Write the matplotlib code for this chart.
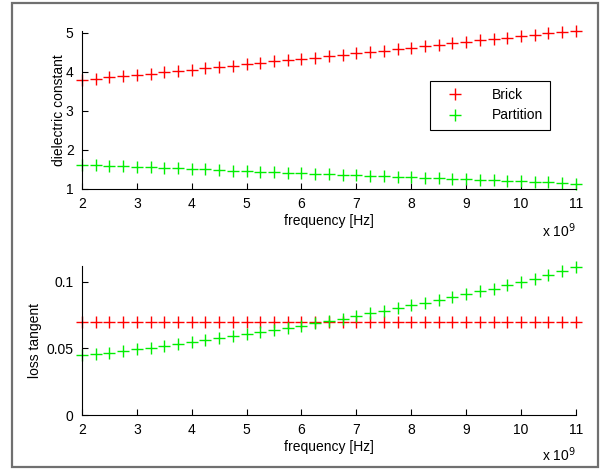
import matplotlib
matplotlib.use("Agg")
import matplotlib.pyplot as plt
from matplotlib.patches import Rectangle

plt.rcParams["font.family"] = ["Liberation Sans", "DejaVu Sans"]
plt.rcParams["font.size"] = 10

# frequency in units of 1e9 Hz
freq = [2.00, 2.25, 2.50, 2.75, 3.00, 3.25, 3.50, 3.75, 4.00, 4.25, 4.50, 4.75,
        5.00, 5.25, 5.50, 5.75, 6.00, 6.25, 6.50, 6.75, 7.00, 7.25, 7.50, 7.75,
        8.00, 8.25, 8.50, 8.75, 9.00, 9.25, 9.50, 9.75, 10.00, 10.25, 10.50,
        10.75, 11.00]

brick_eps = [3.80, 3.83, 3.86, 3.89, 3.92, 3.96, 3.99, 4.02, 4.06, 4.09, 4.13,
             4.16, 4.20, 4.23, 4.27, 4.30, 4.34, 4.37, 4.41, 4.44, 4.48, 4.52,
             4.55, 4.59, 4.62, 4.66, 4.70, 4.73, 4.77, 4.81, 4.84, 4.88, 4.92,
             4.95, 4.99, 5.02, 5.05]
partition_eps = [1.62, 1.61, 1.60, 1.58, 1.57, 1.56, 1.54, 1.53, 1.51, 1.50,
                 1.48, 1.47, 1.46, 1.44, 1.43, 1.42, 1.40, 1.39, 1.38, 1.36,
                 1.35, 1.34, 1.33, 1.31, 1.30, 1.29, 1.27, 1.26, 1.25, 1.24,
                 1.22, 1.21, 1.20, 1.18, 1.17, 1.15, 1.13]

brick_tan = [0.070] * 37
partition_tan = [0.0452, 0.0458, 0.0468, 0.0480, 0.0493, 0.0505, 0.0518,
                 0.0533, 0.0548, 0.0563, 0.0578, 0.0593, 0.0610, 0.0623,
                 0.0640, 0.0655, 0.0670, 0.0688, 0.0705, 0.0725, 0.0745,
                 0.0765, 0.0785, 0.0805, 0.0825, 0.0845, 0.0865, 0.0885,
                 0.0910, 0.0930, 0.0950, 0.0978, 0.1003, 0.1025, 0.1055,
                 0.1080, 0.1110]

xticks = [2, 3, 4, 5, 6, 7, 8, 9, 10, 11]

fig = plt.figure(figsize=(6.09, 4.70), dpi=100)
ax1 = fig.add_axes([0.1346, 0.598, 0.811, 0.336])
ax2 = fig.add_axes([0.1346, 0.117, 0.811, 0.317])

# matlab style: markers are not clipped at the axes edge
mk = dict(linestyle="none", marker="+", markersize=8, markeredgewidth=1.0,
          clip_on=False)


def style(ax):
    for s in ("top", "right"):
        ax.spines[s].set_visible(False)
    for s in ("left", "bottom"):
        ax.spines[s].set_linewidth(0.8)
    ax.tick_params(direction="in", length=4, width=0.8, labelsize=10, pad=6)
    ax.set_xlim(2, 11)
    ax.set_xticks(xticks)
    ax.set_xlabel("frequency [Hz]", labelpad=2)
    ax.text(1.0, -0.265, r"x 10$^9$", transform=ax.transAxes,
            ha="right", va="center", fontsize=10)


ax1.plot(freq, brick_eps, color="#ff0000", label="Brick", **mk)
ax1.plot(freq, partition_eps, color="#00ee00", label="Partition", **mk)
ax1.set_ylim(1, 5.05)
ax1.set_yticks([1, 2, 3, 4, 5])
ax1.set_ylabel("dielectric constant", labelpad=0)
style(ax1)
leg = ax1.legend(loc="upper left", bbox_to_anchor=(0.69, 0.73), frameon=True,
                 fancybox=False, framealpha=1, edgecolor="black",
                 handlelength=2.6, handletextpad=1.3, borderpad=0.55,
                 labelspacing=0.45, fontsize=10)
leg.get_frame().set_linewidth(0.8)

ax2.plot(freq, brick_tan, color="#ff0000", **mk)
ax2.plot(freq, partition_tan, color="#00ee00", **mk)
ax2.set_ylim(0, 0.112)
ax2.set_yticks([0, 0.05, 0.1])
ax2.set_yticklabels(["0", "0.05", "0.1"])
ax2.set_ylabel("loss tangent", labelpad=3)
style(ax2)

# grey frame round the whole figure
fig.patches.append(Rectangle((0.0197, 0.0064), 0.962, 0.987,
                             transform=fig.transFigure, fill=False,
                             edgecolor="#707070", linewidth=1.6))

fig.savefig("out.png", dpi=100)
